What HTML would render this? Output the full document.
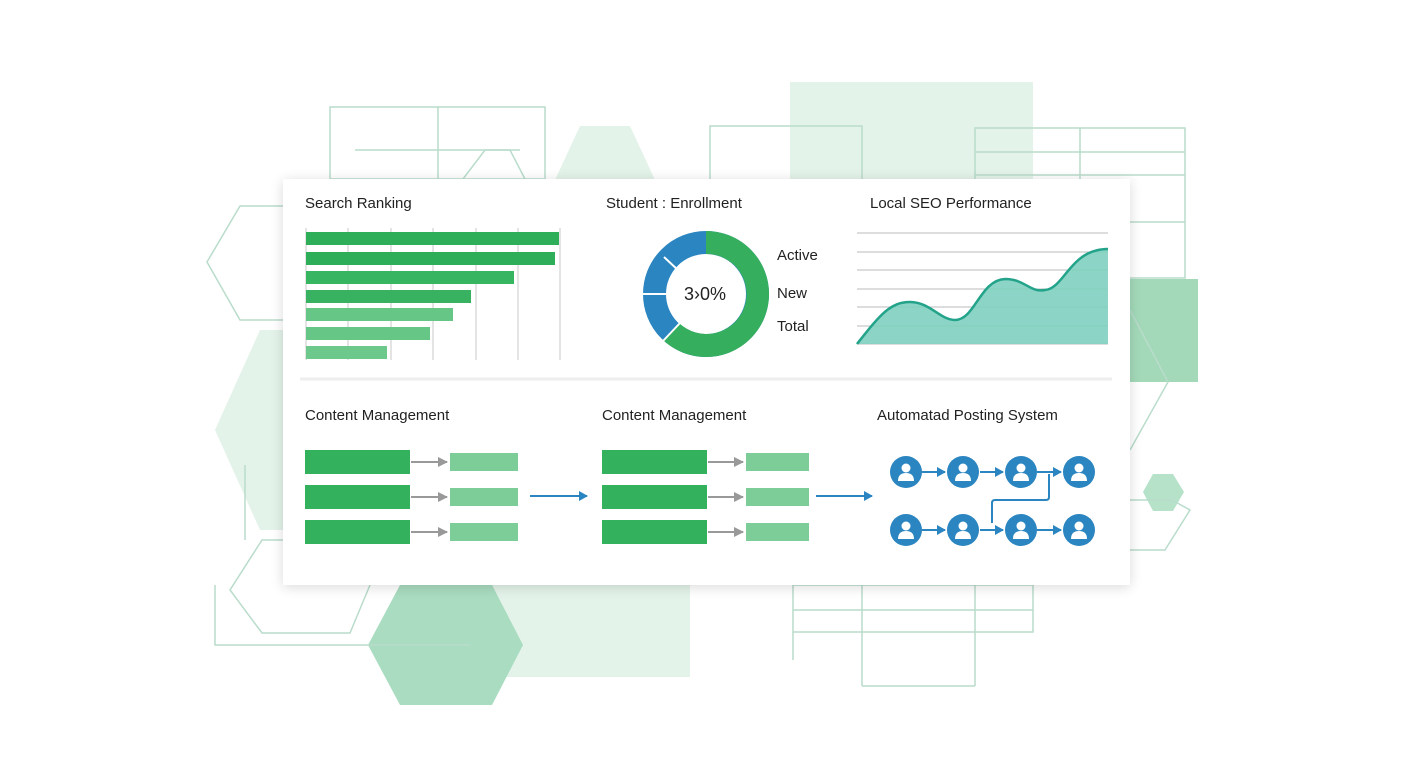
<!DOCTYPE html>
<html><head><style>
body{margin:0;width:1408px;height:768px;background:#fff;overflow:hidden;font-family:"Liberation Sans",sans-serif;position:relative}
.t{position:absolute;font-size:15px;color:#222}
</style></head><body>
<svg width="1408" height="768" style="position:absolute;left:0;top:0">
<g fill="#e3f3e9">
<rect x="790" y="82" width="243" height="120"/>
<rect x="490" y="560" width="200" height="117"/>
<polygon points="580,126 630,126 655,180 555,180"/>
<polygon points="260,330 300,330 300,530 260,530 215,430"/>
</g>
<polygon points="400,585 492,585 523,645 492,705 400,705 368,645" fill="#a9dcc0"/>
<rect x="1130" y="279" width="68" height="103" fill="#a3d9b9"/>
<polygon points="1153,474 1173,474 1184,492 1173,511 1153,511 1143,492" fill="#b5e2c9"/>
<g fill="none" stroke="#b9dccb" stroke-width="1.5">
<rect x="330" y="107" width="215" height="72"/>
<line x1="438" y1="107" x2="438" y2="179"/>
<line x1="355" y1="150" x2="520" y2="150"/>
<polyline points="463,179 485,150 510,150 525,179"/>
<polyline points="283,206 240,206 207,262 240,320 283,320"/>
<polyline points="710,179 710,126 862,126 862,179"/>
<rect x="975" y="128" width="210" height="150"/>
<line x1="975" y1="152" x2="1185" y2="152"/>
<line x1="975" y1="175" x2="1185" y2="175"/>
<line x1="975" y1="222" x2="1185" y2="222"/>
<line x1="1080" y1="128" x2="1080" y2="179"/>
<polyline points="1130,310 1168,382 1130,450"/>
<polyline points="1130,500 1172,500 1190,510 1165,550 1130,550"/>
<polyline points="215,585 215,645 470,645"/>
<polyline points="283,540 262,540 230,590 262,633 350,633 370,585"/>
<polyline points="245,465 245,540"/>
<rect x="793" y="585" width="240" height="47"/>
<line x1="793" y1="610" x2="1033" y2="610"/>
<line x1="862" y1="585" x2="862" y2="686"/>
<line x1="862" y1="686" x2="975" y2="686"/>
<line x1="975" y1="585" x2="975" y2="686"/>
<line x1="793" y1="632" x2="793" y2="660"/>
</g>
</svg>
<div style="position:absolute;left:283px;top:179px;width:847px;height:406px;background:#fff;box-shadow:0 2px 12px rgba(0,0,0,0.15)"></div>
<svg width="1408" height="768" style="position:absolute;left:0;top:0">
<defs>
<marker id="g" markerUnits="userSpaceOnUse" markerWidth="10" markerHeight="10" refX="9" refY="5" orient="auto"><path d="M0,0 L10,5 L0,10 Z" fill="#999"/></marker>
<marker id="b" markerUnits="userSpaceOnUse" markerWidth="9" markerHeight="10" refX="8" refY="5" orient="auto"><path d="M0,0 L9,5 L0,10 Z" fill="#2a85c0"/></marker>
<g id="p"><circle r="16" fill="#2a85c0"/><circle cy="-4" r="4.5" fill="#fff"/><path d="M-8,9 Q-8,1 0,1 Q8,1 8,9 Z" fill="#fff"/></g>
</defs>
<line x1="300" y1="379" x2="1112" y2="379" stroke="#eee" stroke-width="3"/>
<g stroke="#c8c8c8" stroke-width="1">
<line x1="306" y1="228" x2="306" y2="360"/><line x1="348" y1="228" x2="348" y2="360"/><line x1="391" y1="228" x2="391" y2="360"/><line x1="433" y1="228" x2="433" y2="360"/><line x1="476" y1="228" x2="476" y2="360"/><line x1="518" y1="228" x2="518" y2="360"/><line x1="560" y1="228" x2="560" y2="360"/>
</g>
<rect x="306" y="232" width="253" height="13" fill="#2fae5a"/>
<rect x="306" y="252" width="249" height="13" fill="#2fae5a"/>
<rect x="306" y="271" width="208" height="13" fill="#38b561"/>
<rect x="306" y="290" width="165" height="13" fill="#38b260"/>
<rect x="306" y="308" width="147" height="13" fill="#66c686"/>
<rect x="306" y="327" width="124" height="13" fill="#66c686"/>
<rect x="306" y="346" width="81" height="13" fill="#6cc98b"/>
<circle cx="706" cy="294" r="51.5" fill="none" stroke="#2a85c0" stroke-width="23"/>
<path d="M706,231 A63,63 0 1,1 663,340 L679,323 A40,40 0 1,0 706,254 Z" fill="#35ae5e"/>
<g stroke="#fff" stroke-width="2"><line x1="643" y1="294" x2="666" y2="294"/><line x1="664" y1="257" x2="680" y2="272"/><line x1="663" y1="341" x2="680" y2="323"/></g>
<g stroke="#bbb" stroke-width="1"><line x1="857" y1="233" x2="1108" y2="233"/><line x1="857" y1="252" x2="1108" y2="252"/><line x1="857" y1="270" x2="1108" y2="270"/><line x1="857" y1="289" x2="1108" y2="289"/><line x1="857" y1="307" x2="1108" y2="307"/><line x1="857" y1="326" x2="1108" y2="326"/><line x1="857" y1="344" x2="1108" y2="344"/></g>
<path d="M857,344 C880,315 890,302 910,302 C930,302 940,320 955,320 C975,320 980,280 1005,279 C1025,279 1030,293 1045,290 C1065,288 1070,249 1108,249 L1108,344 Z" fill="#7fd0c0" opacity="0.9"/>
<path d="M857,344 C880,315 890,302 910,302 C930,302 940,320 955,320 C975,320 980,280 1005,279 C1025,279 1030,293 1045,290 C1065,288 1070,249 1108,249" fill="none" stroke="#23a38a" stroke-width="2.5"/>
<g fill="#34b15d"><rect x="305" y="450" width="105" height="24"/><rect x="305" y="485" width="105" height="24"/><rect x="305" y="520" width="105" height="24"/>
<rect x="602" y="450" width="105" height="24"/><rect x="602" y="485" width="105" height="24"/><rect x="602" y="520" width="105" height="24"/></g>
<g fill="#7ccd98"><rect x="450" y="453" width="68" height="18"/><rect x="450" y="488" width="68" height="18"/><rect x="450" y="523" width="68" height="18"/>
<rect x="746" y="453" width="63" height="18"/><rect x="746" y="488" width="63" height="18"/><rect x="746" y="523" width="63" height="18"/></g>
<g stroke="#999" stroke-width="2" marker-end="url(#g)"><line x1="411" y1="462" x2="447" y2="462"/><line x1="411" y1="497" x2="447" y2="497"/><line x1="411" y1="532" x2="447" y2="532"/>
<line x1="708" y1="462" x2="743" y2="462"/><line x1="708" y1="497" x2="743" y2="497"/><line x1="708" y1="532" x2="743" y2="532"/></g>
<g stroke="#2a85c0" stroke-width="2" fill="none" marker-end="url(#b)"><line x1="530" y1="496" x2="587" y2="496"/><line x1="816" y1="496" x2="872" y2="496"/>
<line x1="922" y1="472" x2="945" y2="472"/><line x1="980" y1="472" x2="1003" y2="472"/><line x1="1037" y1="472" x2="1061" y2="472"/>
<line x1="922" y1="530" x2="945" y2="530"/><line x1="980" y1="530" x2="1003" y2="530"/><line x1="1037" y1="530" x2="1061" y2="530"/></g>
<path d="M992,523 V503 Q992,500 995,500 H1046 Q1049,500 1049,497 V474" stroke="#2a85c0" stroke-width="2" fill="none"/>
<use href="#p" x="906" y="472"/><use href="#p" x="963" y="472"/><use href="#p" x="1021" y="472"/><use href="#p" x="1079" y="472"/>
<use href="#p" x="906" y="530"/><use href="#p" x="963" y="530"/><use href="#p" x="1021" y="530"/><use href="#p" x="1079" y="530"/>
</svg>
<div class="t" style="left:305px;top:195px">Search Ranking</div>
<div class="t" style="left:606px;top:195px">Student : Enrollment</div>
<div class="t" style="left:870px;top:195px">Local SEO Performance</div>
<div class="t" style="left:684px;top:284px;font-size:18px">3›0%</div>
<div class="t" style="left:777px;top:247px">Active</div>
<div class="t" style="left:777px;top:285px">New</div>
<div class="t" style="left:777px;top:318px">Total</div>
<div class="t" style="left:305px;top:407px">Content Management</div>
<div class="t" style="left:602px;top:407px">Content Management</div>
<div class="t" style="left:877px;top:407px">Automatad Posting System</div>
</body></html>
